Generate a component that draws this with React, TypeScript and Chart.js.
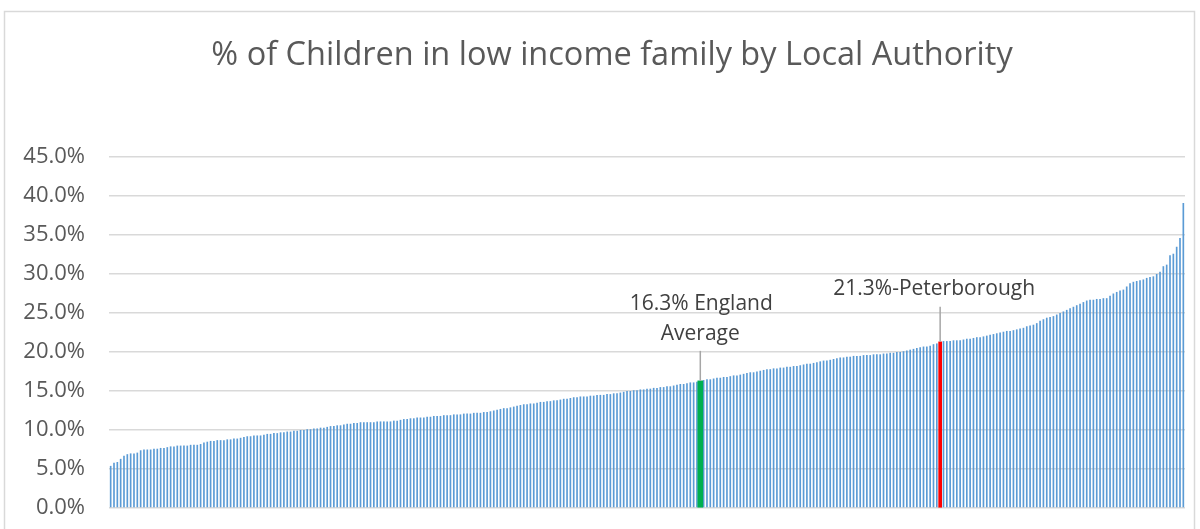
import { useEffect, useRef } from "react";
import { Chart, registerables } from "chart.js";

Chart.register(...registerables);

const TITLE = "% of Children in low income family by Local Authority";

// % of children in low income families, one value per local authority (sorted ascending)
const values: number[] = [
  5.4, 5.8, 5.9, 6.3, 6.7, 6.9, 7.0, 7.0, 7.1, 7.4,
  7.5, 7.5, 7.5, 7.6, 7.6, 7.7, 7.7, 7.8, 7.9, 7.9,
  8.0, 8.0, 8.0, 8.0, 8.1, 8.1, 8.1, 8.2, 8.4, 8.5,
  8.6, 8.6, 8.7, 8.7, 8.7, 8.8, 8.8, 8.9, 8.9, 9.0,
  9.1, 9.2, 9.2, 9.3, 9.3, 9.3, 9.4, 9.5, 9.5, 9.6,
  9.6, 9.7, 9.7, 9.8, 9.8, 9.9, 9.9, 10.0, 10.0, 10.1,
  10.1, 10.2, 10.2, 10.3, 10.3, 10.4, 10.5, 10.5, 10.6, 10.6,
  10.7, 10.8, 10.8, 10.9, 10.9, 11.0, 11.0, 11.0, 11.0, 11.0,
  11.1, 11.1, 11.1, 11.1, 11.1, 11.2, 11.2, 11.3, 11.4, 11.4,
  11.5, 11.5, 11.6, 11.6, 11.6, 11.7, 11.7, 11.8, 11.8, 11.8,
  11.9, 11.9, 11.9, 12.0, 12.0, 12.0, 12.1, 12.1, 12.1, 12.2,
  12.2, 12.2, 12.3, 12.3, 12.4, 12.5, 12.6, 12.7, 12.8, 12.8,
  12.9, 13.0, 13.1, 13.2, 13.3, 13.3, 13.4, 13.4, 13.5, 13.6,
  13.6, 13.7, 13.7, 13.8, 13.8, 13.9, 14.0, 14.0, 14.1, 14.2,
  14.2, 14.3, 14.3, 14.3, 14.4, 14.4, 14.5, 14.5, 14.5, 14.6,
  14.6, 14.7, 14.7, 14.8, 14.9, 15.0, 15.0, 15.1, 15.1, 15.2,
  15.2, 15.3, 15.3, 15.4, 15.4, 15.5, 15.5, 15.6, 15.6, 15.7,
  15.8, 15.9, 15.9, 16.0, 16.1, 16.1, 16.2, 16.3, 16.4, 16.5,
  16.5, 16.6, 16.7, 16.7, 16.8, 16.8, 16.9, 17.0, 17.0, 17.1,
  17.2, 17.3, 17.4, 17.4, 17.5, 17.6, 17.7, 17.8, 17.8, 17.9,
  17.9, 18.0, 18.0, 18.1, 18.1, 18.2, 18.2, 18.3, 18.4, 18.5,
  18.5, 18.6, 18.7, 18.8, 18.9, 18.9, 19.0, 19.1, 19.2, 19.3,
  19.3, 19.4, 19.4, 19.5, 19.5, 19.5, 19.6, 19.6, 19.6, 19.7,
  19.7, 19.7, 19.8, 19.8, 19.9, 19.9, 20.0, 20.0, 20.1, 20.2,
  20.3, 20.4, 20.5, 20.6, 20.7, 20.7, 20.8, 21.0, 21.1, 21.3,
  21.4, 21.4, 21.4, 21.5, 21.5, 21.5, 21.6, 21.7, 21.7, 21.8,
  21.9, 21.9, 22.0, 22.1, 22.2, 22.3, 22.4, 22.5, 22.6, 22.7,
  22.7, 22.8, 22.9, 23.0, 23.1, 23.3, 23.4, 23.5, 23.7, 24.0,
  24.2, 24.4, 24.5, 24.6, 24.8, 25.0, 25.2, 25.4, 25.6, 25.8,
  26.0, 26.2, 26.4, 26.6, 26.7, 26.7, 26.8, 26.8, 26.9, 26.9,
  27.2, 27.5, 27.7, 27.9, 28.0, 28.4, 28.8, 29.0, 29.1, 29.2,
  29.3, 29.5, 29.6, 29.7, 30.0, 30.3, 31.0, 31.2, 32.4, 32.6,
  33.5, 34.6, 39.1,
];

const englandIndex = 177;
const peterboroughIndex = 249;
const englandLabel = ["16.3% England", "Average"];
const peterboroughLabel = ["21.3%-Peterborough"];

const yMin = 0;
const yMax = 45;
const yStep = 5;

const BAR_COLOR = "#5B9BD5";
const ENGLAND_COLOR = "#00B050";
const PETERBOROUGH_COLOR = "#FF0000";
const TEXT_COLOR = "#595959";
const LABEL_COLOR = "#404040";
const GRID_COLOR = "#D9D9D9";
const FONT = "'Open Sans', 'Noto Sans', sans-serif";

const W = 1200;
const H = 529;

const decorPlugin = {
  id: "decor",
  beforeDraw(chart: any) {
    const ctx = chart.ctx;
    ctx.save();
    ctx.fillStyle = "#ffffff";
    ctx.fillRect(0, 0, W, H);
    ctx.strokeStyle = GRID_COLOR;
    ctx.lineWidth = 1.5;
    ctx.strokeRect(4.5, 11.5, 1190, 700);
    ctx.fillStyle = TEXT_COLOR;
    ctx.font = `32.5px ${FONT}`;
    ctx.textAlign = "center";
    ctx.textBaseline = "middle";
    ctx.fillText(TITLE, 612, 56);
    ctx.restore();
  },
  afterDatasetsDraw(chart: any) {
    const ctx = chart.ctx;
    const xs = chart.scales.x;
    const ys = chart.scales.y;
    ctx.save();
    ctx.font = `21px ${FONT}`;
    ctx.fillStyle = LABEL_COLOR;
    ctx.textAlign = "center";
    ctx.textBaseline = "middle";
    ctx.strokeStyle = "#A6A6A6";
    ctx.lineWidth = 1.5;

    // England average callout
    const ex = xs.getPixelForValue(englandIndex);
    const ey = ys.getPixelForValue(values[englandIndex]);
    ctx.beginPath();
    ctx.moveTo(ex, ey);
    ctx.lineTo(ex, ey - 30);
    ctx.stroke();
    ctx.fillText(englandLabel[0], ex + 1, ey - 77);
    ctx.fillText(englandLabel[1], ex, ey - 47);

    // Peterborough callout
    const px = xs.getPixelForValue(peterboroughIndex);
    const py = ys.getPixelForValue(values[peterboroughIndex]);
    ctx.beginPath();
    ctx.moveTo(px, py);
    ctx.lineTo(px, py - 35);
    ctx.stroke();
    ctx.fillText(peterboroughLabel[0], px - 6, py - 53);
    ctx.restore();
  },
};

export default function App() {
  const ref = useRef<HTMLCanvasElement | null>(null);

  useEffect(() => {
    if (!ref.current) return;
    const labels = values.map((_, i) => String(i + 1));
    const mainColors = values.map((_, i) =>
      i === englandIndex || i === peterboroughIndex ? "rgba(0,0,0,0)" : BAR_COLOR
    );
    const englandData = values.map((v, i) => (i === englandIndex ? v : null));
    const peterData = values.map((v, i) => (i === peterboroughIndex ? v : null));

    const chart = new Chart(ref.current, {
      type: "bar",
      data: {
        labels,
        datasets: [
          {
            data: values,
            backgroundColor: mainColors,
            borderWidth: 0,
            barPercentage: 0.5,
            categoryPercentage: 1,
            grouped: false,
            order: 2,
          } as any,
          {
            data: englandData,
            backgroundColor: ENGLAND_COLOR,
            borderWidth: 0,
            barThickness: 5,
            grouped: false,
            order: 1,
          } as any,
          {
            data: peterData,
            backgroundColor: PETERBOROUGH_COLOR,
            borderWidth: 0,
            barThickness: 3,
            grouped: false,
            order: 1,
          } as any,
        ],
      },
      options: {
        responsive: false,
        animation: false,
        devicePixelRatio: 1,
        layout: { padding: { top: 157, right: 15, bottom: 21, left: 0 } },
        plugins: {
          legend: { display: false },
          tooltip: { enabled: false },
          title: { display: false },
        },
        scales: {
          x: {
            grid: { display: false, drawTicks: false },
            border: { display: false },
            ticks: { display: false },
            afterFit: (s: any) => {
              s.height = 0;
            },
          },
          y: {
            min: yMin,
            max: yMax,
            ticks: {
              stepSize: yStep,
              padding: 24,
              color: TEXT_COLOR,
              font: { family: FONT, size: 22 },
              callback: (v: any) => Number(v).toFixed(1) + "%",
            },
            grid: { color: GRID_COLOR, lineWidth: 1.5, drawTicks: false },
            border: { display: false },
            afterFit: (s: any) => {
              s.width = 109;
              s.paddingTop = 0;
              s.paddingBottom = 0;
            },
          },
        },
      },
      plugins: [decorPlugin],
    });
    return () => chart.destroy();
  }, []);

  return (
    <div style={{ position: "fixed", left: 0, top: 0, width: W, height: H, overflow: "hidden", background: "#fff" }}>
      <canvas ref={ref} width={W} height={H} style={{ width: W, height: H, display: "block" }} />
    </div>
  );
}
